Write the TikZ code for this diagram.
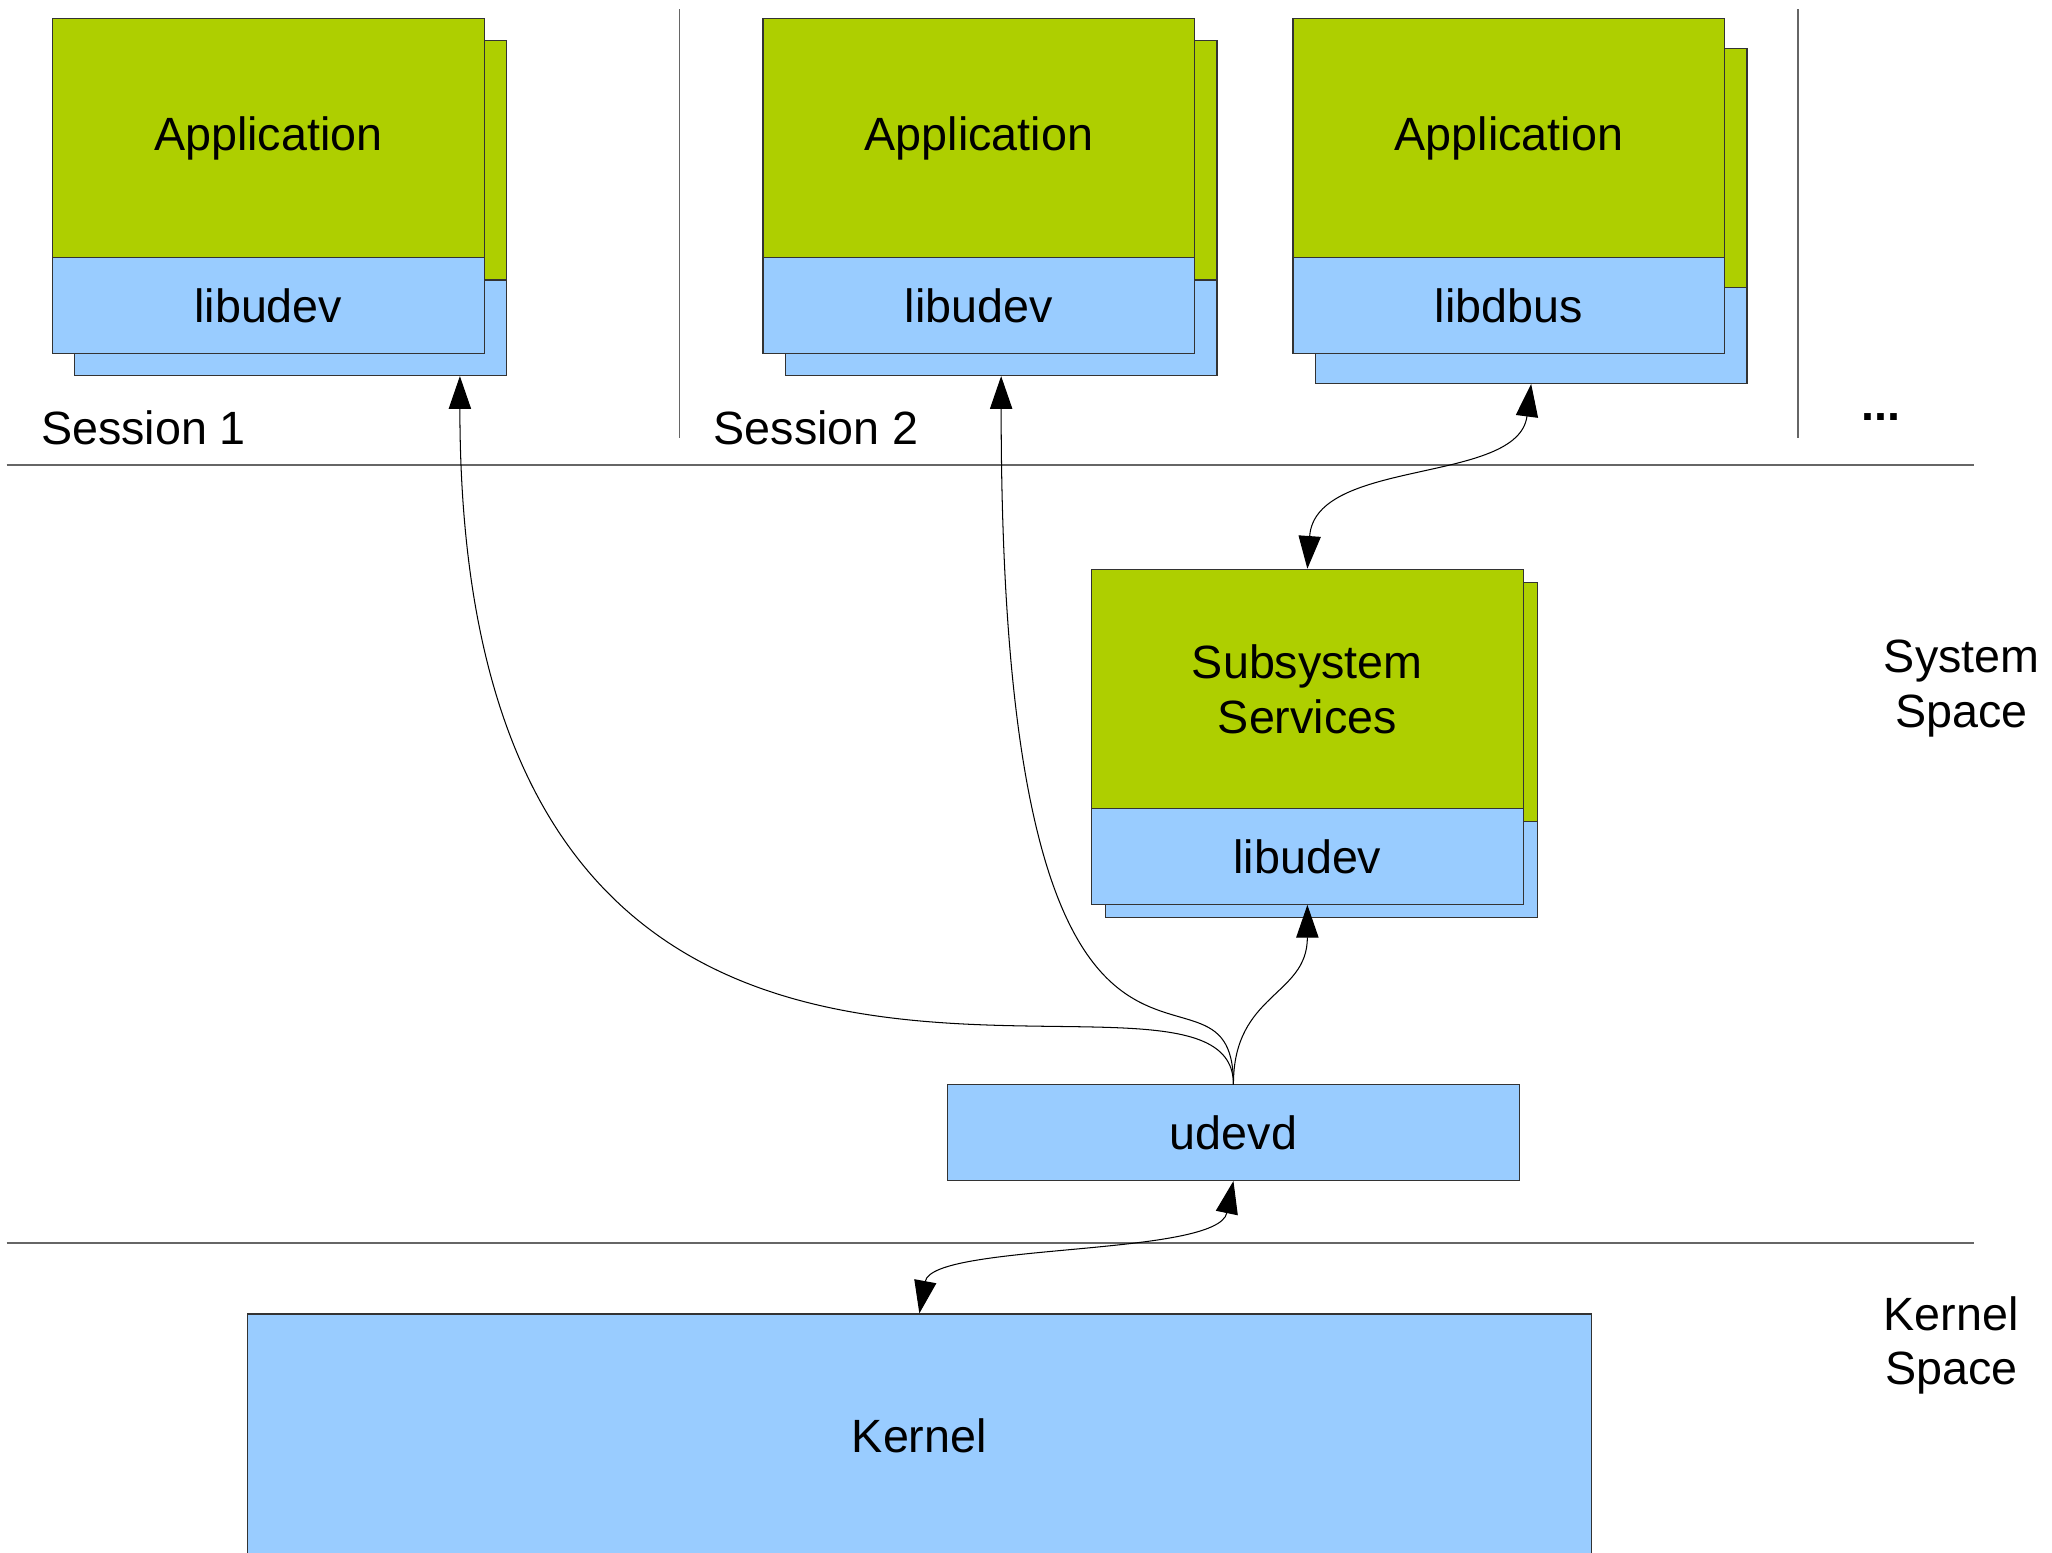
\documentclass[tikz,border=0pt]{standalone}
\usepackage{fontspec}
\setmainfont{Liberation Sans}
\usetikzlibrary{positioning, arrows.meta}
\definecolor{appgreen}{HTML}{AECF00}
\definecolor{libblue}{HTML}{99CCFF}
\tikzstyle{appbox}=[rectangle, draw=black!80, fill=appgreen, line width=0.5pt, minimum width=6.6cm, minimum height=3.66cm, inner sep=0pt, align=center]
\tikzstyle{libbox}=[rectangle, draw=black!80, fill=libblue, line width=0.5pt, minimum width=6.6cm, minimum height=1.46cm, inner sep=0pt]
\tikzstyle{lbl}=[inner sep=0pt, align=center]
\tikzstyle{divider}=[draw=black!60, line width=0.8pt]
\tikzstyle{arrow}=[draw, line width=0.45pt, -{Triangle[length=0.5cm, width=0.34cm]}]
\tikzstyle{dblarrow}=[draw, line width=0.45pt, {Triangle[length=0.5cm, width=0.34cm]}-{Triangle[length=0.5cm, width=0.34cm]}]

\begin{document}
\begin{tikzpicture}[x=0.02cm, y=-0.02cm, node distance=2.56cm, font=\fontsize{20.3}{23.8}\selectfont]
		\useasboundingbox (0,0) rectangle (1568,1186);
		\clip (0,0) rectangle (1568,1186);
		
		% space and session borders
		\draw[divider] (5,355) -- (1508,355);
		\draw[divider] (5,950) -- (1508,950);
		\draw[divider, line width=0.6pt] (519,7) -- (519,335);
		\draw[divider, line width=0.6pt] (1374,7) -- (1374,335);
		
		% session 1
		\node (app1s) [appbox] at (222,122.5) {};
		\node (lib1s) [libbox, below of=app1s] {};
		\node (app1) [appbox, xshift=-0.34cm, yshift=0.34cm] at (app1s) {Application};
		\node (lib1) [libbox, below of=app1] {libudev};
		
		% session 2
		\node (app2s) [appbox] at (765,122.5) {};
		\node (lib2s) [libbox, below of=app2s] {};
		\node (app2) [appbox, xshift=-0.34cm, yshift=0.34cm] at (app2s) {Application};
		\node (lib2) [libbox, below of=app2] {libudev};
		
		\node (app3s) [appbox] at (1170,128.5) {};
		\node (lib3s) [libbox, below of=app3s] {};
		\node (app3) [appbox, xshift=-0.34cm, yshift=0.46cm] at (app3s) {Application};
		\node (lib3) [libbox, below of=app3] {libdbus};
		
		% system space
		\node (subsyss) [appbox] at (1010,536.5) {};
		\node (sublibs) [libbox, below of=subsyss] {};
		\node (subsys) [appbox, xshift=-0.22cm, yshift=0.2cm] at (subsyss) {Subsystem\\Services};
		\node (sublib) [libbox, below of=subsys] {libudev};
		
		\node (udevd) [libbox, minimum width=8.74cm] at (942.5,865.5) {udevd};
		
		% kernel space
		\node (kernel) [libbox, minimum width=20.54cm, minimum height=3.74cm] at (702.5,1097.5) {Kernel};
		
		\node (sess1) [lbl, anchor=base west] at (31,340) {Session 1};
		\node (sess2) [lbl, anchor=base west] at (545,340) {Session 2};
		\node (more) [lbl, anchor=base west] at (1422,321) {\textbf{...}};
		\node (sysspace) [lbl] at (1499,526) {System\\Space};
		\node (kernspace) [lbl] at (1491,1028) {Kernel\\Space};
		
		\draw[arrow] (udevd.north) .. controls +(0,-137) and +(0,701) .. ([xshift=-0.72cm]lib1s.south east);
		\draw[arrow] (udevd.north) .. controls +(0,-127) and +(0,643) .. (lib2s.south);
		\draw[arrow] (udevd.north) .. controls +(0,-70) and +(0,70) .. (sublib.south);
		\draw[dblarrow] (lib3s.south) .. controls +(-10,77) and +(6,-85) .. (subsys.north);
		\draw[dblarrow] (udevd.south) .. controls +(-12,58) and +(10,-54) .. (kernel.north);
		
\end{tikzpicture}
\end{document}
